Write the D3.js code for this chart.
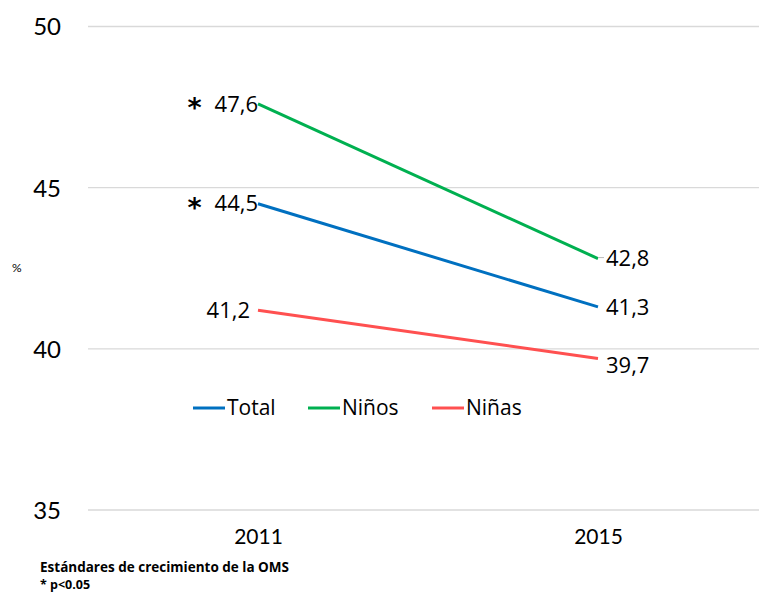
<!DOCTYPE html>
<html><head><meta charset="utf-8">
<script src="https://cdn.jsdelivr.net/npm/d3@7"></script>
<style>body{margin:0;background:#fff}svg{display:block}</style>
</head><body><svg id="c" width="759" height="592"></svg>
<script>
const years = ["2011", "2015"];
const seriesNames = ["Total", "Niños", "Niñas"];
const totalValues = [44.5, 41.3];
const ninosValues = [47.6, 42.8];
const ninasValues = [41.2, 39.7];
const starred2011 = [true, true, false];
const yTicks = [35, 40, 45, 50];
const colors = ["#0070C0", "#00B050", "#FF5050"];
const series = [totalValues, ninosValues, ninasValues];

const LATO = "Lato, sans-serif";
const OPEN = "'Open Sans', sans-serif";
const svg = d3.select("#c");
const x = d3.scalePoint().domain(years).range([88, 768]).padding(0.5);
const y = d3.scaleLinear().domain([35, 50]).range([510, 26.5]);

svg.append("g").selectAll("line").data(yTicks).join("line")
  .attr("x1", 88).attr("x2", 759).attr("y1", d => y(d)).attr("y2", d => y(d))
  .attr("stroke", "#d9d9d9").attr("stroke-width", 1.3);

const yAxis = svg.append("g").attr("transform", "translate(61,0)")
  .call(d3.axisLeft(y).tickValues(yTicks).tickSize(0).tickPadding(0));
yAxis.select(".domain").remove();
yAxis.selectAll("text").style("font-size", "24px").style("font-family", LATO).attr("fill", "#000").attr("dy", "0.35em");

const xAxis = svg.append("g").attr("transform", "translate(0,537)")
  .call(d3.axisBottom(x).tickSize(0).tickPadding(0));
xAxis.select(".domain").remove();
xAxis.selectAll("text").style("font-size", "21px").style("font-family", LATO).attr("fill", "#000").attr("dy", "0.35em");

svg.append("text").attr("x", 12).attr("y", 272).style("font-size", "12px").style("font-family", LATO).text("%");

const line = d3.line().x((d, i) => x(years[i])).y(d => y(d));
svg.append("g").selectAll("path").data(series).join("path")
  .attr("d", d => line(d)).attr("fill", "none")
  .attr("stroke", (d, i) => colors[i]).attr("stroke-width", 3);

const fmt = v => String(v).replace(".", ",");
series.forEach((s, i) => {
  const t = svg.append("text").attr("text-anchor", "end").style("font-size", "22px")
    .style("font-family", OPEN)
    .attr("x", x(years[0]) - (starred2011[i] ? 0 : 8)).attr("y", y(s[0])).attr("dy", "0.35em")
    .text(fmt(s[0]));
  if (starred2011[i]) {
    const w = t.node().getComputedTextLength();
    svg.append("text").attr("text-anchor", "end").style("font-size", "27px").style("font-weight", "bold")
      .style("font-family", "'DejaVu Sans', sans-serif")
      .attr("x", x(years[0]) - w - 13).attr("y", y(s[0]) + 13).text("*");
  }
  svg.append("text").style("font-size", "22px").style("font-family", OPEN)
    .attr("x", x(years[1]) + 8)
    .attr("y", y(s[1]) + (i === 2 ? 7 : 0)).attr("dy", "0.35em").text(fmt(s[1]));
});
svg.append("line").attr("x1", x(years[1])).attr("x2", x(years[1]) + 6)
  .attr("y1", y(ninosValues[1]) - 1).attr("y2", y(ninosValues[1]) - 1)
  .attr("stroke", "#bbb").attr("stroke-width", 1);

const legX = [193, 308, 432];
seriesNames.forEach((n, i) => {
  svg.append("line").attr("x1", legX[i]).attr("x2", legX[i] + 32)
    .attr("y1", 408).attr("y2", 408).attr("stroke", colors[i]).attr("stroke-width", 3);
  svg.append("text").attr("x", legX[i] + 34).attr("y", 408).attr("dy", "0.35em")
    .style("font-family", OPEN).style("font-size", "21px").text(n);
});

svg.append("text").attr("x", 40).attr("y", 572).style("font-size", "13.5px").style("font-weight", "bold")
  .style("font-family", OPEN).text("Estándares de crecimiento de la OMS");
svg.append("text").attr("x", 40).attr("y", 589).style("font-size", "12.5px").style("font-weight", "bold")
  .style("font-family", OPEN).text("* p<0.05");
</script></body></html>
